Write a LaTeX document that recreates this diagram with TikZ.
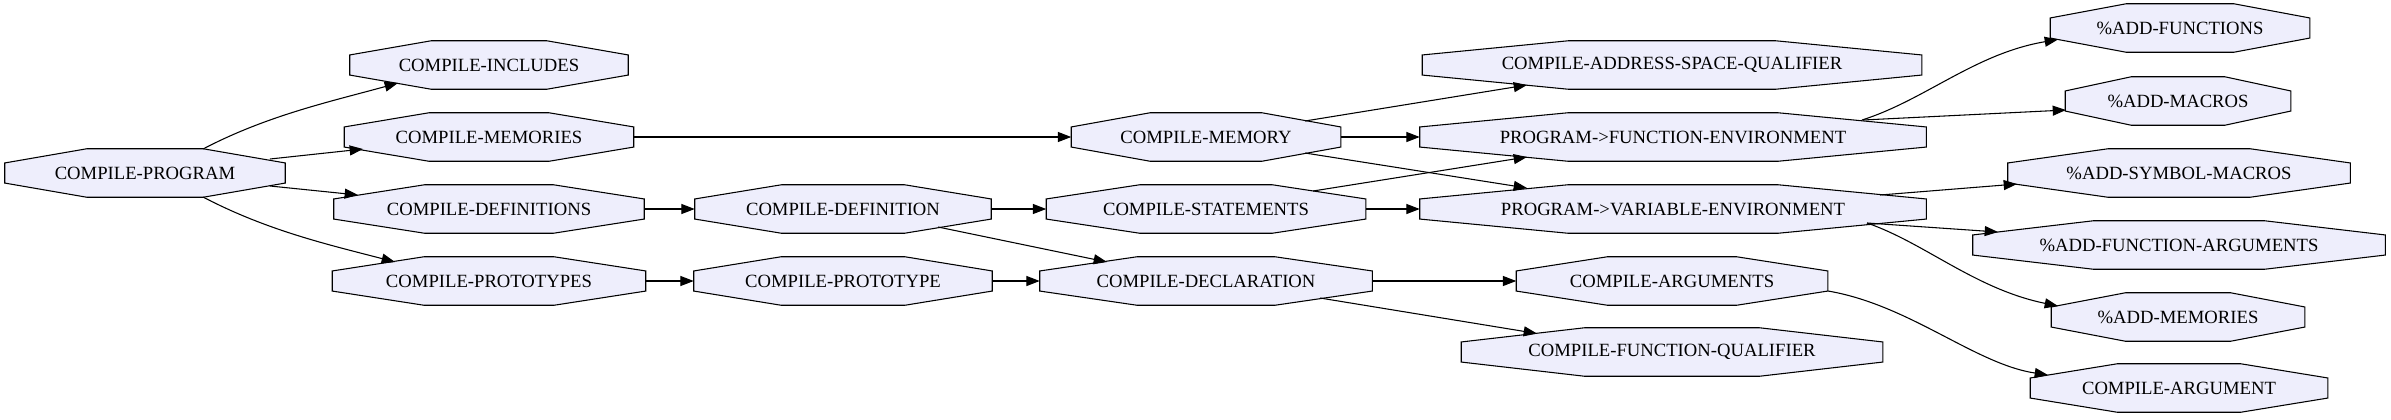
\documentclass[tikz,border=0pt]{standalone}
\usepackage{fontspec}
\setmainfont{Liberation Serif}
\usetikzlibrary{arrows.meta, calc, backgrounds}
\definecolor{octfill}{HTML}{EEEEFC}

\tikzset{
  octo/.style={minimum width=#1*0.75pt, minimum height=36pt, inner sep=0pt,
    font=\fontsize{14}{16}\selectfont},
  octline/.style={fill=octfill, draw=black, line width=0.8pt},
  link/.style={-{Triangle[length=10pt, width=7.5pt]}, line width=0.8pt},
}

\begin{document}
\begin{tikzpicture}[x=0.75pt, y=-0.75pt]
  \useasboundingbox (0,0) rectangle (2391,419);

  % nodes
  \node[octo=280] (prog)   at (145,173)  {COMPILE-PROGRAM};
  \node[octo=278] (incl)   at (489,65)   {COMPILE-INCLUDES};
  \node[octo=289] (mems)   at (489,137)  {COMPILE-MEMORIES};
  \node[octo=310] (defs)   at (489,209)  {COMPILE-DEFINITIONS};
  \node[octo=313] (prots)  at (489,281)  {COMPILE-PROTOTYPES};
  \node[octo=296] (def)    at (843,209)  {COMPILE-DEFINITION};
  \node[octo=298] (prot)   at (843,281)  {COMPILE-PROTOTYPE};
  \node[octo=269] (mem)    at (1206,137) {COMPILE-MEMORY};
  \node[octo=319] (stmts)  at (1206,209) {COMPILE-STATEMENTS};
  \node[octo=332] (decl)   at (1206,281) {COMPILE-DECLARATION};
  \node[octo=499] (asq)    at (1672,65)  {COMPILE-ADDRESS-SPACE-QUALIFIER};
  \node[octo=506] (fenv)   at (1673,137) {PROGRAM->FUNCTION-ENVIRONMENT};
  \node[octo=506] (venv)   at (1673,209) {PROGRAM->VARIABLE-ENVIRONMENT};
  \node[octo=311] (args)   at (1672,281) {COMPILE-ARGUMENTS};
  \node[octo=421] (fq)     at (1672,352) {COMPILE-FUNCTION-QUALIFIER};
  \node[octo=259] (addf)   at (2180,28)  {\%ADD-FUNCTIONS};
  \node[octo=225] (addm)   at (2178,101) {\%ADD-MACROS};
  \node[octo=342] (addsm)  at (2179,173) {\%ADD-SYMBOL-MACROS};
  \node[octo=412] (addfa)  at (2179,245) {\%ADD-FUNCTION-ARGUMENTS};
  \node[octo=253] (addmem) at (2178,317) {\%ADD-MEMORIES};
  \node[octo=297] (arg)    at (2179,388) {COMPILE-ARGUMENT};

  % octagon outlines behind the labels
  \begin{scope}[on background layer]
    \foreach \n in {prog, incl, mems, defs, prots, def, prot, mem, stmts, decl,
                    asq, fenv, venv, args, fq, addf, addm, addsm, addfa, addmem, arg}
      \draw[octline] ($(\n.north west)!0.293!(\n.north east)$)
        -- ($(\n.north west)!0.707!(\n.north east)$)
        -- ($(\n.north east)!0.293!(\n.south east)$)
        -- ($(\n.north east)!0.707!(\n.south east)$)
        -- ($(\n.south west)!0.707!(\n.south east)$)
        -- ($(\n.south west)!0.293!(\n.south east)$)
        -- ($(\n.north west)!0.707!(\n.south west)$)
        -- ($(\n.north west)!0.293!(\n.south west)$) -- cycle;
  \end{scope}

  % edges
  \draw[link] ([shift={(58,-24)}]prog.center) .. controls +(65,-34) and +(-65,18) .. ([shift={(-91,18)}]incl.center);
  \draw[link] ([shift={(125,-14)}]prog.center) -- ([shift={(-126,12)}]mems.center);
  \draw[link] ([shift={(125,13)}]prog.center) -- ([shift={(-131,-14)}]defs.center);
  \draw[link] ([shift={(58,24)}]prog.center) .. controls +(65,34) and +(-65,-17) .. ([shift={(-94,-19)}]prots.center);
  \draw[link] (mems.east) -- (mem.west);
  \draw[link] (defs.east) -- (def.west);
  \draw[link] (prots.east) -- (prot.west);
  \draw[link] (def.east) -- (stmts.west);
  \draw[link] ([shift={(95,18)}]def.center) -- ([shift={(-99,-19)}]decl.center);
  \draw[link] (prot.east) -- (decl.west);
  \draw[link] ([shift={(99,-16)}]mem.center) -- ([shift={(-145,20)}]asq.center);
  \draw[link] (mem.east) -- (fenv.west);
  \draw[link] ([shift={(99,16)}]mem.center) -- ([shift={(-146,-21)}]venv.center);
  \draw[link] ([shift={(107,-18)}]stmts.center) -- ([shift={(-146,20)}]fenv.center);
  \draw[link] (stmts.east) -- (venv.west);
  \draw[link] (decl.east) -- (args.west);
  \draw[link] ([shift={(114,17)}]decl.center) -- ([shift={(-135,-18.5)}]fq.center);
  \draw[link] ([shift={(189,-17)}]fenv.center) .. controls +(63,-20) and +(-83,14) .. ([shift={(-122,11.5)}]addf.center);
  \draw[link] ([shift={(190,-17)}]fenv.center) -- ([shift={(-112,9)}]addm.center);
  \draw[link] ([shift={(207,-14)}]venv.center) -- ([shift={(-162,11)}]addsm.center);
  \draw[link] ([shift={(194,14)}]venv.center) -- ([shift={(-181,-13)}]addfa.center);
  \draw[link] ([shift={(194,14)}]venv.center) .. controls +(58,20) and +(-83,-17) .. ([shift={(-120,-11)}]addmem.center);
  \draw[link] ([shift={(156,10)}]args.center) .. controls +(82,14) and +(-73,-11) .. ([shift={(-131,-13)}]arg.center);
\end{tikzpicture}
\end{document}
